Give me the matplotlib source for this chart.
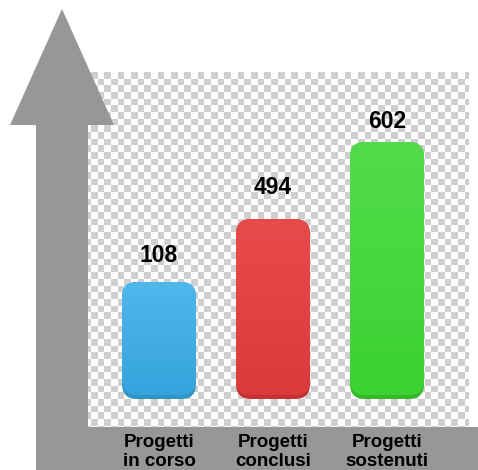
import numpy as np
import matplotlib
matplotlib.use("Agg")
import matplotlib.pyplot as plt
from matplotlib.patches import FancyBboxPatch, Polygon, Rectangle
from matplotlib.colors import LinearSegmentedColormap

# ---- data ----
categories = ["Progetti\nin corso", "Progetti\nconclusi", "Progetti\nsostenuti"]
values = [108, 494, 602]
bar_heights = [117, 180, 257]          # displayed bar heights (as drawn in the picture)
top_colors = ["#4db8ec", "#e84b4b", "#52dc4a"]
bot_colors = ["#36a3dc", "#db3a3a", "#3bd232"]
rim_colors = ["#3194c6", "#c43232", "#34b82c"]

# layout (not data)
label_gaps = [27, 32, 20]

W, H = 478, 470
fig = plt.figure(figsize=(W / 100, H / 100), dpi=100)
ax = fig.add_axes([0, 0, 1, 1])
ax.set_xlim(0, W)
ax.set_ylim(0, H)
ax.axis("off")
fig.patch.set_facecolor("white")

GREY = "#979797"

# checkerboard background
cx0, cx1, cy0, cy1 = 88, 469, 43, 398
sq = 6.67
gx0 = 84.4 - sq * 2        # grid origin (x) so that squares line up
nx = int(np.ceil((cx1 - gx0) / sq)) + 1
ny = int(np.ceil((cy1 - cy0) / sq)) + 1
board = ((np.add.outer(np.arange(ny), np.arange(nx)) + 1) % 2).astype(float)
ax.imshow(board, cmap=LinearSegmentedColormap.from_list("c", ["#cfcfcf", "#ffffff"]),
          extent=[gx0, gx0 + nx * sq, cy1 - ny * sq, cy1], origin="upper",
          interpolation="nearest", zorder=0, aspect="auto")
ax.add_patch(Rectangle((cx1, 0), W - cx1, H, facecolor="white", edgecolor="none", zorder=0.5))
ax.add_patch(Rectangle((0, cy1), W, H - cy1, facecolor="white", edgecolor="none", zorder=0.5))
ax.add_patch(Rectangle((0, 0), cx0, H, facecolor="white", edgecolor="none", zorder=0.5))

# bottom band
ax.add_patch(Rectangle((36, 0), W - 36, 43, facecolor=GREY, edgecolor="none", zorder=2))
# arrow
ax.add_patch(Polygon([(36, 0), (36, 345), (10, 345), (62, 461), (114, 345), (88, 345), (88, 0)],
                     closed=True, facecolor=GREY, edgecolor="none", zorder=2))

# bars
centers = [159, 273, 387]
bw = 74
base = 71
for i, (c, h) in enumerate(zip(centers, bar_heights)):
    x0 = c - bw / 2
    rim = FancyBboxPatch((x0, base), bw, h, boxstyle="round,pad=0,rounding_size=15",
                         facecolor=rim_colors[i], edgecolor="none", zorder=3)
    ax.add_patch(rim)
    body = FancyBboxPatch((x0, base + 4), bw, h - 4, boxstyle="round,pad=0,rounding_size=15",
                          facecolor="none", edgecolor="none", zorder=4)
    ax.add_patch(body)
    cmap = LinearSegmentedColormap.from_list("g", [bot_colors[i], top_colors[i]])
    grad = np.linspace(0, 1, 256).reshape(-1, 1)
    im = ax.imshow(grad, cmap=cmap, extent=[x0, x0 + bw, base + 4, base + h],
                   origin="lower", aspect="auto", zorder=4, interpolation="bilinear")
    im.set_clip_path(body)
    ax.text(c, base + h + label_gaps[i], f"{values[i]}", ha="center", va="center",
            fontsize=16.5, fontweight="bold", family="Liberation Sans", color="black", zorder=5)
    ax.text(c, 18, categories[i], ha="center", va="center", linespacing=1.22,
            fontsize=13.5, fontweight="bold", family="Liberation Sans", color="black", zorder=5)

fig.savefig("out.png", dpi=100)
